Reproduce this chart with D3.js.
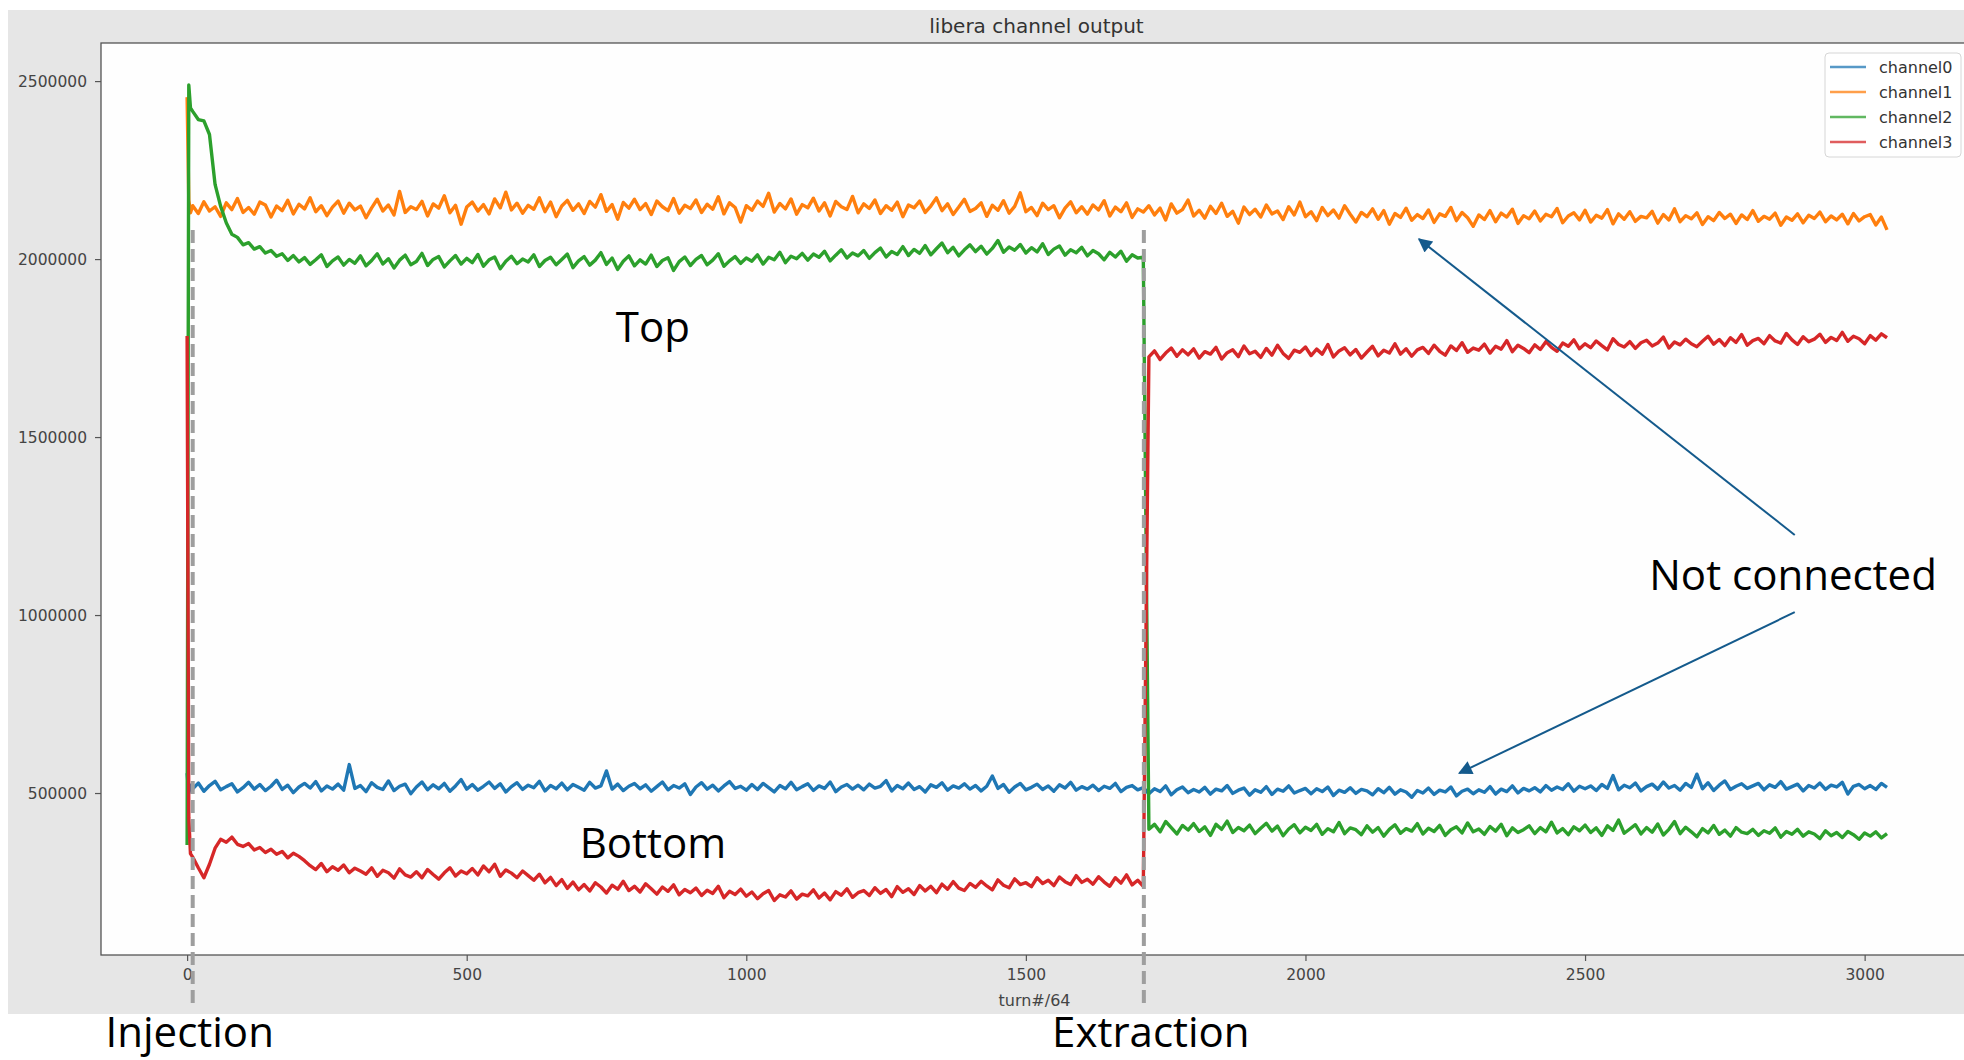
<!DOCTYPE html>
<html>
<head>
<meta charset="utf-8">
<script src="https://cdn.jsdelivr.net/npm/d3@7"></script>
<style>
  html, body { margin: 0; padding: 0; background: #fff; }
  #chart { width: 1964px; height: 1060px; }
</style>
</head>
<body>
<div id="chart"></div>
<script>
const seriesNames = ['channel0', 'channel1', 'channel2', 'channel3'];
const seriesColors = ['#1f77b4', '#ff7f0e', '#2ca02c', '#d62728'];

// turn#/64 sample points: three around injection, then every 10 turns
const turns = [0, 3, 6].concat(d3.range(10, 3041, 10));

// channel outputs, in thousands of counts (one row = 100 turns)
const channel0 = [
  556, 500, 522,
  512, 528, 505, 521, 533, 509, 518, 526, 503, 515,
  530, 511, 524, 507, 519, 536, 510, 522, 501, 517,
  527, 514, 532, 506, 520, 511, 525, 508, 580, 513,
  521, 504, 529, 516, 510, 534, 507, 519, 525, 498,
  517, 531, 509, 523, 512, 527, 505, 520, 538, 511,
  524, 508, 519, 531, 513, 526, 503, 518, 529, 510,
  522, 515, 533, 506, 521, 512, 528, 509, 524, 516,
  508, 530, 514, 520, 562, 511, 525, 507, 519, 527,
  512, 523, 505, 518, 531, 509, 521, 514, 526, 496,
  517, 529, 511, 522, 506, 520, 532, 513, 519, 508,
  524, 510, 527, 515, 503, 521, 512, 530, 509, 518,
  526, 507, 520, 513, 531, 504, 517, 524, 511, 522,
  509, 525, 514, 519, 535, 506, 521, 512, 528, 510,
  518, 503, 523, 516, 529, 508, 520, 514, 526, 511,
  521, 506, 519, 548, 513, 524, 502, 517, 527, 509,
  516, 525, 510, 520, 505, 523, 514, 530, 508, 518,
  511, 522, 507, 519, 513, 527, 504, 516, 521, 509,
  515, 498, 512, 504, 520, 495, 509, 517, 501, 510,
  503, 516, 497, 511, 506, 521, 499, 508, 514, 494,
  509, 502, 518, 496, 511, 505, 520, 500, 507, 513,
  498, 512, 504, 517, 493, 508, 502, 515, 499, 510,
  506, 495, 512, 501, 516, 497, 509, 503, 488, 507,
  500, 514, 496, 508, 503, 517, 492, 505, 511, 498,
  509, 502, 518, 497, 511, 504, 520, 500, 513, 506,
  515, 503, 521, 508, 517, 510, 526, 505, 519, 512,
  520, 507, 524, 513, 549, 509, 522, 515, 528, 506,
  518, 525, 511, 531, 514, 521, 508, 527, 516, 553,
  512, 529, 507, 522, 534, 510, 519, 526, 513, 520,
  527, 509, 523, 516, 532, 511, 518, 525, 506, 521,
  514, 528, 510, 522, 517, 530, 497, 519, 524, 512,
  521, 510, 527, 516
];

const channel1 = [
  2455, 2165, 2130,
  2150, 2128, 2161, 2135, 2147, 2120, 2158, 2139, 2170, 2131,
  2145, 2126, 2160, 2152, 2118, 2149, 2136, 2165, 2127, 2154,
  2141, 2172, 2133, 2150, 2122, 2146, 2163, 2129, 2157, 2138,
  2149, 2116, 2144, 2168, 2135, 2152, 2124, 2190, 2131, 2147,
  2139, 2162, 2121, 2155, 2143, 2178, 2130, 2151, 2098, 2146,
  2160, 2135, 2153, 2127, 2169, 2144, 2188, 2138, 2157, 2129,
  2151, 2140, 2172, 2133, 2160, 2119, 2149, 2165, 2137, 2155,
  2128, 2162, 2146, 2181, 2134, 2153, 2112, 2159, 2143, 2168,
  2139, 2156, 2125, 2163, 2147, 2136, 2170, 2129, 2151, 2142,
  2166, 2131, 2154, 2140, 2175, 2127, 2158, 2145, 2104, 2150,
  2137, 2163, 2148, 2185, 2132, 2156, 2141, 2169, 2126, 2153,
  2144, 2171, 2135, 2158, 2121, 2162, 2147, 2139, 2176, 2130,
  2155, 2142, 2166, 2128, 2150, 2137, 2160, 2119, 2152, 2144,
  2163, 2131, 2149, 2172, 2136, 2155, 2125, 2146, 2168, 2134,
  2142, 2158, 2120, 2151, 2137, 2164, 2129, 2148, 2186, 2133,
  2145, 2122, 2157, 2139, 2150, 2116, 2143, 2161, 2130, 2147,
  2126, 2152, 2138, 2164, 2121, 2146, 2133, 2158, 2117, 2141,
  2132, 2150, 2124, 2143, 2110, 2155, 2129, 2139, 2166, 2121,
  2137, 2115, 2148, 2128, 2157, 2120, 2134, 2101, 2146, 2125,
  2140, 2118, 2152, 2127, 2135, 2111, 2147, 2124, 2160, 2119,
  2133, 2108, 2145, 2122, 2138, 2115, 2150, 2126, 2104, 2131,
  2119, 2141, 2112, 2136, 2098, 2128, 2117, 2143, 2109, 2125,
  2114, 2138, 2103, 2127, 2120, 2145, 2108, 2131, 2116, 2092,
  2124, 2111, 2136, 2105, 2129, 2118, 2140, 2100, 2122, 2113,
  2135, 2107, 2126, 2119, 2142, 2102, 2121, 2130, 2110, 2137,
  2104, 2123, 2115, 2139, 2099, 2127, 2112, 2133, 2106, 2120,
  2116, 2134, 2101, 2125, 2110, 2141, 2105, 2122, 2113, 2130,
  2097, 2119, 2108, 2131, 2114, 2126, 2100, 2124, 2111, 2136,
  2106, 2120, 2112, 2129, 2095, 2118, 2109, 2127, 2102, 2123,
  2114, 2132, 2105, 2121, 2110, 2126, 2099, 2128, 2107, 2119,
  2125, 2096, 2118, 2082
];

const channel2 = [
  354, 2489, 2425,
  2415, 2392, 2388, 2350, 2210, 2148, 2102, 2070, 2061, 2040,
  2046, 2028, 2035, 2017, 2024, 2008, 2015, 1996, 2010, 1992,
  2004, 1985, 1998, 2012, 1979, 1995, 2006, 1983, 1999, 1988,
  2009, 1981, 1996, 2015, 1986, 2001, 1975, 1997, 2011, 1984,
  1993, 2016, 1982, 1999, 2007, 1978, 1995, 2010, 1986, 2002,
  1990, 2013, 1980, 1998, 2006, 1973, 1994, 2008, 1987, 2000,
  1992, 2012, 1979, 1996, 2005, 1984, 1999, 2014, 1976, 1995,
  2007, 1983, 1997, 2018, 1985, 2003, 1971, 1994, 2009, 1981,
  1998, 1986, 2011, 1979, 1996, 2004, 1968, 1993, 2006, 1982,
  1999, 2010, 1984, 1997, 2015, 1980, 1995, 2007, 1988, 2003,
  1994, 2012, 1986, 2005, 1998, 2019, 1990, 2008, 2001, 2016,
  1997, 2014, 2005, 2022, 1995, 2011, 2026, 2003, 2017, 2009,
  2024, 2002, 2018, 2031, 2006, 2021, 2013, 2035, 2010, 2027,
  2016, 2038, 2012, 2029, 2045, 2018, 2033, 2009, 2026, 2040,
  2021, 2036, 2014, 2030, 2052, 2019, 2034, 2025, 2041, 2017,
  2032, 2020, 2043, 2013, 2028, 2037, 2011, 2026, 2018, 2033,
  2009, 2024, 2015, 1998, 2019, 2006, 2022, 1994, 2012, 2003,
  2005, 398, 412, 391, 420, 403, 385, 409, 396, 414,
  392, 405, 381, 412, 398, 421, 389, 403, 394, 410,
  386, 401, 415, 393, 407, 380, 399, 411, 388, 404,
  395, 412, 384, 400, 391, 417, 386, 402, 397, 383,
  408, 390, 403, 379, 398, 411, 387, 400, 393, 414,
  385, 401, 392, 409, 381, 397, 405, 388, 416, 391,
  399, 384, 406, 393, 412, 380, 402, 389, 397, 408,
  386, 403, 391, 418, 388, 400, 383, 405, 394, 410,
  389, 402, 381, 408, 395, 424, 387, 399, 411, 385,
  403, 390, 413, 382, 398, 420, 386, 404, 391, 377,
  400, 388, 409, 384, 396, 379, 403, 390, 386, 398,
  381, 394, 387, 402, 376, 392, 384, 398, 379, 391,
  385, 372, 394, 380, 389, 375, 392, 383, 370, 388,
  379, 391, 374, 386
];

const channel3 = [
  1784, 430, 330,
  320, 290, 262, 300, 345, 370, 362, 376, 356, 350,
  358, 340, 347, 333, 342, 328, 336, 318, 331, 322,
  310, 296, 285, 302, 279, 293, 283, 298, 276, 289,
  281, 272, 290, 266, 283, 276, 261, 287, 270, 264,
  279, 262, 285, 271, 258, 276, 290, 267, 281, 273,
  288, 270, 295, 279, 300, 266, 284, 275, 262, 281,
  268, 255, 272, 248, 263, 240, 257, 232, 250, 228,
  243, 225, 248, 236, 219, 241, 230, 252, 226, 238,
  222, 245, 231, 216, 236, 224, 242, 214, 229, 220,
  233, 212, 227, 218, 238, 206, 224, 215, 230, 210,
  222, 203, 217, 226, 198, 214, 208, 225, 202, 216,
  211, 228, 205, 219, 200, 223, 213, 231, 207, 220,
  226, 212, 234, 218, 229, 209, 237, 221, 231, 215,
  240, 225, 238, 220, 244, 230, 251, 233, 226, 246,
  235, 252, 239, 228, 256, 241, 234, 259, 243, 248,
  237, 262, 246, 255, 240, 264, 251, 243, 268, 249,
  258, 244, 265, 250, 238, 262, 247, 270, 242, 255,
  238, 1725, 1742, 1718, 1736, 1750, 1727, 1745, 1731, 1748,
  1722, 1740, 1733, 1752, 1719, 1737, 1745, 1726, 1756, 1734,
  1741, 1724, 1749, 1730, 1758, 1735, 1721, 1744, 1738, 1753,
  1729, 1747, 1733, 1760, 1725, 1742, 1751, 1731, 1746, 1722,
  1739, 1755, 1728, 1744, 1736, 1762, 1733, 1748, 1727, 1745,
  1752, 1735, 1758, 1741, 1730, 1756, 1743, 1765, 1738, 1750,
  1744, 1761, 1736, 1755, 1747, 1771, 1740, 1758, 1749, 1737,
  1759, 1746, 1768, 1752, 1741, 1764, 1755, 1773, 1748, 1762,
  1751, 1770, 1757, 1745, 1776, 1760, 1753, 1768, 1749, 1765,
  1772, 1756, 1764, 1781, 1750, 1767, 1759, 1775, 1762, 1754,
  1769, 1783, 1761, 1774, 1757, 1779, 1766, 1788, 1758, 1771,
  1777, 1762, 1785, 1770, 1764, 1791, 1773, 1760, 1782, 1768,
  1775, 1789, 1766, 1780, 1771, 1794, 1769, 1783, 1776, 1762,
  1785, 1772, 1790, 1779
];

const xTicks = [0, 500, 1000, 1500, 2000, 2500, 3000];
const yTicks = [500000, 1000000, 1500000, 2000000, 2500000];

// slide annotations
const events = [
  { label: 'Injection', turn: 10 },
  { label: 'Extraction', turn: 1711 }
];
const regionLabels = [
  { text: 'Top', turn: 833, value: 1767000 },
  { text: 'Bottom', turn: 833, value: 317000 }
];
const note = { text: 'Not connected', turn: 2872, value: 1070000 };
const noteArrows = [
  { from: [2875, 1225000], to: [2203, 2056000] },
  { from: [2875, 1008000], to: [2275, 556000] }
];

const allSeries = [channel0, channel1, channel2, channel3];
allSeries.forEach((s, i) => {
  if (s.length !== turns.length) throw new Error(seriesNames[i] + ' has ' + s.length + ' points, expected ' + turns.length);
});

const width = 1964;
const height = 1060;
const plot = { left: 101, top: 43, right: 1972, bottom: 955 };

const svg = d3.select('#chart')
  .append('svg')
  .attr('width', width)
  .attr('height', height)
  .style('font-family', '"DejaVu Sans", sans-serif');

svg.append('rect')
  .attr('x', 8).attr('y', 10)
  .attr('width', width - 8).attr('height', 1004)
  .attr('fill', '#e6e6e6');

svg.append('rect')
  .attr('x', plot.left).attr('y', plot.top)
  .attr('width', plot.right - plot.left).attr('height', plot.bottom - plot.top)
  .attr('fill', '#fefefe');

const x = d3.scaleLinear().domain([-154, 3192]).range([plot.left, plot.right]);
const y = d3.scaleLinear().domain([45000, 2607000]).range([plot.bottom, plot.top]);

const line = d3.line()
  .x((d, i) => x(turns[i]))
  .y(d => y(d * 1000));

svg.append('g')
  .selectAll('path')
  .data(allSeries)
  .enter()
  .append('path')
  .attr('d', d => line(d))
  .attr('fill', 'none')
  .attr('stroke', (d, i) => seriesColors[i])
  .attr('stroke-width', 3.4)
  .attr('stroke-linejoin', 'round');

// spines
svg.append('rect')
  .attr('x', plot.left).attr('y', plot.top)
  .attr('width', plot.right - plot.left).attr('height', plot.bottom - plot.top)
  .attr('fill', 'none')
  .attr('stroke', '#555')
  .attr('stroke-width', 1.3);

const xAxis = svg.append('g')
  .attr('transform', `translate(0,${plot.bottom})`)
  .call(d3.axisBottom(x).tickValues(xTicks).tickSize(6).tickPadding(8).tickFormat(d3.format('d')));
const yAxis = svg.append('g')
  .attr('transform', `translate(${plot.left},0)`)
  .call(d3.axisLeft(y).tickValues(yTicks).tickSize(6).tickPadding(8).tickFormat(d3.format('d')));

[xAxis, yAxis].forEach(a => {
  a.select('.domain').remove();
  a.selectAll('line').attr('stroke', '#555').attr('stroke-width', 1.2);
  a.selectAll('text')
    .attr('fill', '#444')
    .style('font-size', '15.5px')
    .style('font-family', '"DejaVu Sans", sans-serif');
});

svg.append('text')
  .attr('x', (plot.left + plot.right) / 2)
  .attr('y', 33)
  .attr('text-anchor', 'middle')
  .attr('fill', '#333')
  .style('font-size', '20px')
  .text('libera channel output');

svg.append('text')
  .attr('x', (plot.left + plot.right) / 2 - 2)
  .attr('y', 1006)
  .attr('text-anchor', 'middle')
  .attr('fill', '#444')
  .style('font-size', '16px')
  .text('turn#/64');

// legend
const legend = svg.append('g')
  .attr('transform', `translate(${plot.right - 147},53)`);
legend.append('rect')
  .attr('width', 136).attr('height', 104)
  .attr('rx', 4)
  .attr('fill', '#fff')
  .attr('stroke', '#d6d6d6');
const item = legend.selectAll('g')
  .data(seriesNames)
  .enter()
  .append('g')
  .attr('transform', (d, i) => `translate(0,${14 + i * 25})`);
item.append('line')
  .attr('x1', 5).attr('x2', 41)
  .attr('stroke', (d, i) => seriesColors[i])
  .attr('stroke-opacity', 0.75)
  .attr('stroke-width', 2.6);
item.append('text')
  .attr('x', 54)
  .attr('dy', '0.36em')
  .attr('fill', '#333')
  .style('font-size', '16px')
  .text(d => d);

// injection / extraction markers
svg.append('g')
  .selectAll('line')
  .data(events)
  .enter()
  .append('line')
  .attr('x1', d => x(d.turn)).attr('x2', d => x(d.turn))
  .attr('y1', y(2082000)).attr('y2', plot.bottom + 48)
  .attr('stroke', '#9e9e9e')
  .attr('stroke-width', 4)
  .attr('stroke-dasharray', '13,6');

const notes = svg.append('g')
  .style('font-family', '"Open Sans", sans-serif')
  .style('font-size', '42px')
  .attr('fill', '#000');

notes.selectAll('text.event')
  .data(events)
  .enter()
  .append('text')
  .attr('class', 'event')
  .attr('x', d => x(d.turn) + (d.label === 'Injection' ? -3 : 7))
  .attr('y', plot.bottom + 92)
  .attr('text-anchor', 'middle')
  .text(d => d.label);

notes.selectAll('text.region')
  .data(regionLabels)
  .enter()
  .append('text')
  .attr('class', 'region')
  .attr('x', d => x(d.turn))
  .attr('y', d => y(d.value))
  .attr('text-anchor', 'middle')
  .text(d => d.text);

notes.append('text')
  .attr('x', x(note.turn))
  .attr('y', y(note.value))
  .attr('text-anchor', 'middle')
  .text(note.text);

svg.append('defs')
  .append('marker')
  .attr('id', 'head')
  .attr('viewBox', '0 0 10 10')
  .attr('refX', 9).attr('refY', 5)
  .attr('markerWidth', 8).attr('markerHeight', 7)
  .attr('markerUnits', 'strokeWidth')
  .attr('orient', 'auto')
  .append('path')
  .attr('d', 'M0,0L10,5L0,10z')
  .attr('fill', '#145a8c');

svg.append('g')
  .selectAll('line')
  .data(noteArrows)
  .enter()
  .append('line')
  .attr('x1', d => x(d.from[0])).attr('y1', d => y(d.from[1]))
  .attr('x2', d => x(d.to[0])).attr('y2', d => y(d.to[1]))
  .attr('stroke', '#145a8c')
  .attr('stroke-width', 2)
  .attr('marker-end', 'url(#head)');
</script>
</body>
</html>
